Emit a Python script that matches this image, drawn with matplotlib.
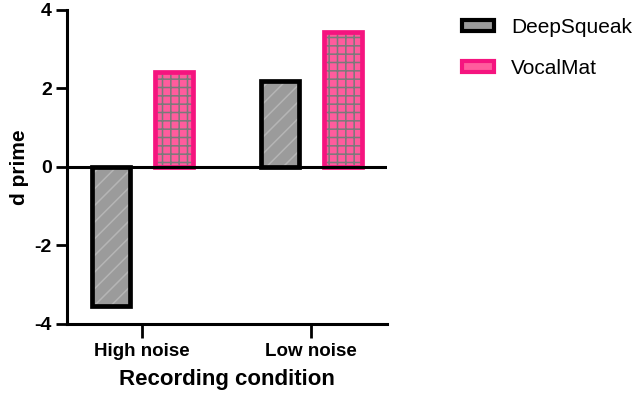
import numpy as np
import matplotlib
matplotlib.use("Agg")
import matplotlib.pyplot as plt
from matplotlib.patches import Patch

conditions = ["High noise", "Low noise"]
deepsqueak = [-3.53, 2.20]
vocalmat = [2.42, 3.45]

plt.rcParams['font.family'] = ['Liberation Sans', 'DejaVu Sans']
plt.rcParams['hatch.linewidth'] = 1.1
plt.rcParams['axes.unicode_minus'] = False

fig = plt.figure(figsize=(6.4, 3.99), dpi=100)
ax = fig.add_axes([0.105, 0.188, 0.50, 0.787])

x = np.arange(len(conditions))
off = 0.186
w = 0.225
lw = 3.4

# fill + hatch first (hatch takes the edge colour), then the thick outline
ax.bar(x - off, deepsqueak, w, color="#9b9b9b", edgecolor="#b5b5b5", hatch="//", lw=0)
ax.bar(x - off, deepsqueak, w, fill=False, edgecolor="black", lw=lw)
ax.bar(x + off, vocalmat, w, color="#ff5c9d", edgecolor="#7a7a7a", hatch="++", lw=0)
ax.bar(x + off, vocalmat, w, fill=False, edgecolor="#f5147f", lw=lw)

ax.axhline(0, color="black", lw=2.2, zorder=3)

ax.set_xlim(-0.444, 1.45)
ax.set_ylim(-4, 4)
ax.set_yticks([-4, -2, 0, 2, 4])
ax.set_xticks(x)
ax.set_xticklabels(conditions, fontsize=13.5, fontweight="bold")
for t in ax.get_yticklabels():
    t.set_fontsize(14)
    t.set_fontweight("bold")
ax.tick_params(axis="y", width=2, length=8, pad=3)
ax.tick_params(axis="x", width=2, length=10, pad=4)
for s in ["top", "right"]:
    ax.spines[s].set_visible(False)
for s in ["left", "bottom"]:
    ax.spines[s].set_linewidth(2.2)

ax.set_xlabel("Recording condition", fontsize=16, fontweight="bold", labelpad=6)
ax.set_ylabel("d prime", fontsize=15, fontweight="bold", labelpad=4)

handles = [
    Patch(facecolor="#9b9b9b", edgecolor="black", lw=3),
    Patch(facecolor="#ff5c9d", edgecolor="#f5147f", lw=3),
]
fig.legend(handles, ["DeepSqueak", "VocalMat"], loc="upper left",
           bbox_to_anchor=(0.709, 0.975), frameon=False, fontsize=15,
           handlelength=1.55, handleheight=0.45, handletextpad=0.8,
           labelspacing=1.05, borderaxespad=0)

fig.savefig("out.png", dpi=100)
